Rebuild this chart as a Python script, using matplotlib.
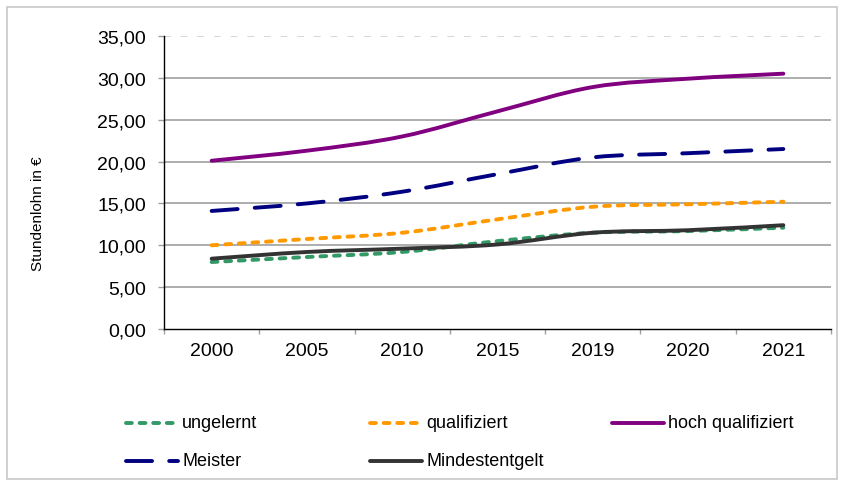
import matplotlib

matplotlib.use("Agg")
import matplotlib.pyplot as plt
import numpy as np
from matplotlib.lines import Line2D
from matplotlib.patches import PathPatch, Rectangle
from matplotlib.path import Path

plt.rcParams["font.family"] = ["Liberation Sans", "DejaVu Sans"]

# Daten (Stundenlohn in €)
years = ["2000", "2005", "2010", "2015", "2019", "2020", "2021"]
ungelernt = [8.0, 8.6, 9.2, 10.5, 11.5, 11.7, 12.1]
qualifiziert = [10.0, 10.75, 11.5, 13.1, 14.6, 14.9, 15.2]
hoch_qualifiziert = [20.1, 21.3, 23.0, 26.0, 28.9, 29.9, 30.5]
meister = [14.1, 15.0, 16.4, 18.5, 20.5, 21.0, 21.5]
mindestentgelt = [8.4, 9.2, 9.6, 10.1, 11.5, 11.8, 12.4]

y_ticks = [0, 5, 10, 15, 20, 25, 30, 35]

W, H = 843, 485
LW = 2.8

series = [
    ("ungelernt", ungelernt, "#339966", (0, (1.5, 2.0))),
    ("qualifiziert", qualifiziert, "#FF9900", (0, (1.5, 2.0))),
    ("hoch qualifiziert", hoch_qualifiziert, "#800080", "solid"),
    ("Meister", meister, "#000080", (0, (6.7, 4.4))),
    ("Mindestentgelt", mindestentgelt, "#333333", "solid"),
]


def smooth_path(xs, ys):
    # geglättete Linie wie in Excel (Bezier-Kurven durch die Datenpunkte)
    pts = np.column_stack([xs, ys]).astype(float)
    n = len(pts)
    verts = [pts[0]]
    codes = [Path.MOVETO]
    for i in range(n - 1):
        p0 = pts[max(i - 1, 0)]
        p1 = pts[i]
        p2 = pts[i + 1]
        p3 = pts[min(i + 2, n - 1)]
        c1 = p1 + (p2 - p0) / 6.0
        c2 = p2 - (p3 - p1) / 6.0
        verts += [c1, c2, p2]
        codes += [Path.CURVE4] * 3
    return Path(verts, codes)


fig = plt.figure(figsize=(W / 100, H / 100), dpi=100)

# Rahmen um das Diagramm
fig.add_artist(
    Rectangle(
        (7 / W, 1 - 480 / H),
        (837 - 7) / W,
        (480 - 8) / H,
        transform=fig.transFigure,
        fill=False,
        edgecolor="#c8c8c8",
        linewidth=1.2,
    )
)

ax = fig.add_axes([164 / W, 1 - 330 / H, (831 - 164) / W, (330 - 37) / H])
x = np.arange(len(years))

ax.hlines(y_ticks[1:-1], -0.5, len(years) - 0.5, color="#a0a0a0", lw=1.2, zorder=0.5)
ax.hlines([y_ticks[-1]], -0.5, len(years) - 0.5, color="#d0d0d0", lw=1.2,
          linestyles=(0, (4, 6)), zorder=0.5)

for name, vals, color, ls in series:
    patch = PathPatch(
        smooth_path(x, vals),
        fill=False,
        edgecolor=color,
        linewidth=LW,
        linestyle=ls,
        capstyle="round",
        joinstyle="round",
        zorder=3,
    )
    ax.add_patch(patch)

ax.set_xlim(-0.5, len(years) - 0.5)
ax.set_ylim(0, 35)

ax.spines["top"].set_visible(False)
ax.spines["right"].set_visible(False)
ax.spines["left"].set_color("black")
ax.spines["bottom"].set_color("black")
ax.spines["left"].set_linewidth(1.0)
ax.spines["bottom"].set_linewidth(1.0)

ax.set_yticks(y_ticks)
ax.set_yticklabels([f"{v:.2f}".replace(".", ",") for v in y_ticks])
ax.tick_params(axis="y", length=4.3, width=1.0, color="#a0a0a0", pad=8.6,
               labelsize=14)

ax.set_xticks(x)
ax.set_xticklabels(years)
ax.set_xticks(np.arange(len(years) + 1) - 0.5, minor=True)
ax.tick_params(axis="x", which="major", length=0, pad=9.4, labelsize=14)
ax.tick_params(axis="x", which="minor", length=3.6, width=1.0, color="#a0a0a0")

fig.text(38 / W, 1 - 214 / H, "Stundenlohn in €", rotation=90, ha="center",
         va="center", fontsize=11)

# Legende (manuell platziert)
legend_pos = {
    "ungelernt": (126, 424),
    "qualifiziert": (370, 424),
    "hoch qualifiziert": (612, 424),
    "Meister": (126, 462),
    "Mindestentgelt": (370, 462),
}
for name, vals, color, ls in series:
    px, py = legend_pos[name]
    fig.add_artist(
        Line2D(
            [px / W, (px + 52) / W],
            [1 - py / H, 1 - py / H],
            transform=fig.transFigure,
            color=color,
            linewidth=LW,
            linestyle=ls,
            solid_capstyle="round",
            dash_capstyle="round",
        )
    )
    fig.text((px + 56) / W, 1 - py / H, name, ha="left", va="center",
             fontsize=13)

fig.savefig("out.png", dpi=100)
